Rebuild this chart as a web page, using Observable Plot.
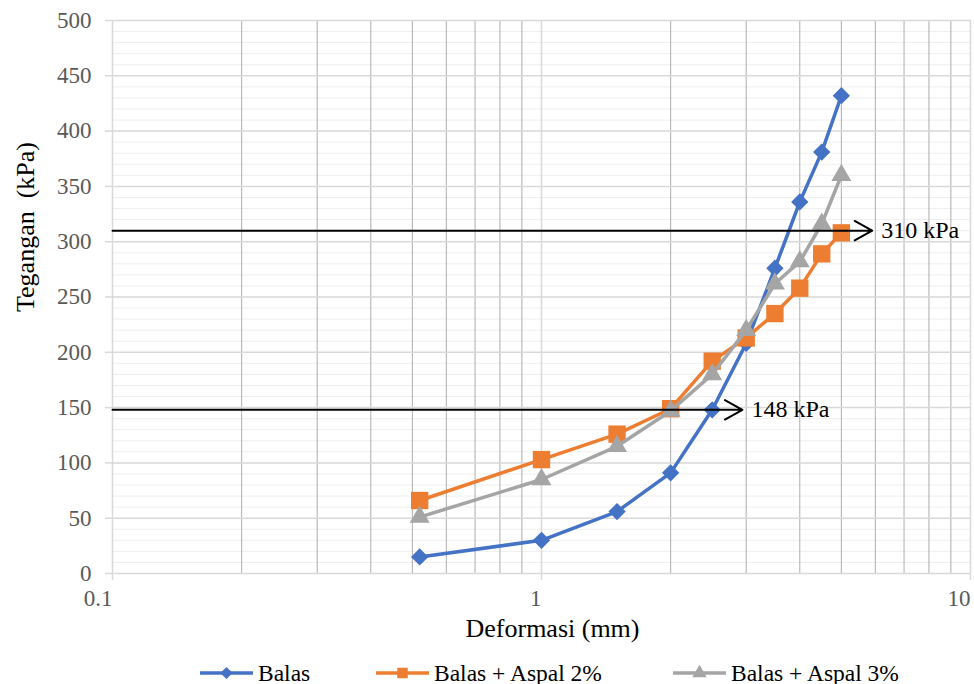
<!DOCTYPE html>
<html><head><meta charset="utf-8">
<script src="https://cdn.jsdelivr.net/npm/d3@7"></script>
<script src="https://cdn.jsdelivr.net/npm/@observablehq/plot@0.6"></script>
<style>
body{margin:0;background:#fff;font-family:"Liberation Serif","Times New Roman",serif;}
#legend{position:relative;height:34px;width:974px;font-size:23.5px;color:#000;}
.item{position:absolute;top:0;height:34px;display:flex;align-items:center;white-space:nowrap;}
.item svg{margin-right:4px;}
</style></head><body><div id="chart"></div><div id="legend"></div>
<script>
// Data
const deformasi = [0.52, 1, 1.5, 2, 2.5, 3, 3.5, 4, 4.5, 5];
const balas     = [15, 30, 56, 91, 148, 208, 276, 336, 381, 432];
const aspal2    = [66, 103, 126, 149, 192, 213, 235, 258, 289, 308];
const aspal3    = [51, 85, 115, 147, 180, 220, 262, 282, 316, 360];
const seriesNames = ["Balas", "Balas + Aspal 2%", "Balas + Aspal 3%"];
const seriesValues = [balas, aspal2, aspal3];
const seriesColors = ["#4472C4", "#ED7D31", "#A5A5A5"];
const seriesSymbols = ["diamond2", "square", "triangle"];
const xDomain = [0.1, 10];
const yDomain = [0, 500];
const xMajorTicks = [0.1, 1, 10];
const xMinorTicks = [0.2, 0.3, 0.4, 0.5, 0.6, 0.7, 0.8, 0.9, 2, 3, 4, 5, 6, 7, 8, 9];
const yMajorTicks = [0, 50, 100, 150, 200, 250, 300, 350, 400, 450, 500];
const yMinorTicks = [10,20,30,40,60,70,80,90,110,120,130,140,160,170,180,190,210,220,230,240,260,270,280,290,310,320,330,340,360,370,380,390,410,420,430,440,460,470,480,490];
const annotationLevels = [310, 148];
const annotationEnds = [5.9, 2.94];
const annotationLabels = ["310 kPa", "148 kPa"];
const xTitle = "Deformasi (mm)";
const yTitle = "Tegangan  (kPa)";

const rows = seriesNames.map((name, s) => deformasi.map((x, i) => ({series: name, x, y: seriesValues[s][i]})));
const annotations = annotationLevels.map((level, i) => ({level, end: annotationEnds[i], label: annotationLabels[i]}));

const symbolR = {diamond2: 7.8, square: 9.8, triangle: 7.4};
const seriesMarks = rows.flatMap((data, s) => [
  Plot.line(data, {x: "x", y: "y", stroke: seriesColors[s], strokeWidth: 3.5}),
  Plot.dot(data, {x: "x", y: "y", symbol: seriesSymbols[s], fill: seriesColors[s], r: symbolR[seriesSymbols[s]], stroke: "none"})
]);

const chart = Plot.plot({
  width: 974, height: 656,
  marginLeft: 112, marginRight: 4, marginTop: 20, marginBottom: 83,
  style: {fontFamily: "'Liberation Serif','Times New Roman',serif", background: "#fff", overflow: "visible"},
  x: {type: "log", domain: xDomain},
  y: {domain: yDomain},
  marks: [
    Plot.ruleY(yMinorTicks, {stroke: "#efefef", strokeWidth: 1}),
    Plot.ruleX(xMinorTicks, {stroke: "#adadad", strokeWidth: 1}),
    Plot.ruleY(yMajorTicks, {stroke: "#d9d9d9", strokeWidth: 1.5}),
    Plot.ruleX(xMajorTicks, {stroke: "#d9d9d9", strokeWidth: 1.5}),
    Plot.axisY({ticks: yMajorTicks, tickSize: 7, tickPadding: 14, stroke: "#d9d9d9", strokeWidth: 1.5, fill: "#595959", fontSize: 23, label: null}),
    Plot.axisX({ticks: xMajorTicks, tickSize: 7, tickPadding: 9, tickFormat: d => String(d), textAnchor: "end", stroke: "#d9d9d9", strokeWidth: 1.5, fill: "#595959", fontSize: 23, label: null}),
    ...seriesMarks,
    Plot.arrow(annotations, {x1: () => xDomain[0], x2: "end", y1: "level", y2: "level", stroke: "#000", strokeWidth: 2, headLength: 15, headAngle: 58}),
    Plot.text(annotations, {x: "end", y: "level", text: "label", textAnchor: "start", dx: 9, fontSize: 24, fill: "#000"}),
    Plot.text([xTitle], {frameAnchor: "bottom", text: d => d, dy: 63, dx: 11, fontSize: 26, fill: "#000"}),
    Plot.text([yTitle], {frameAnchor: "left", text: d => d, rotate: -90, dx: -87, dy: 15, fontSize: 26, fill: "#000"})
  ]
});
document.getElementById("chart").appendChild(chart);

// Legend
const legend = document.getElementById("legend");
const legendLeft = [199, 375, 672];
const legendSymbol = {diamond2: d3.symbolDiamond2, square: d3.symbolSquare, triangle: d3.symbolTriangle};
const legendSize = {diamond2: 95, square: 110, triangle: 90};
seriesNames.forEach((name, s) => {
  const item = document.createElement("div");
  item.className = "item";
  item.style.left = legendLeft[s] + "px";
  const sym = seriesSymbols[s];
  const path = d3.symbol(legendSymbol[sym], legendSize[sym])();
  item.innerHTML = `<svg width="55" height="20"><line x1="1" x2="54" y1="10" y2="10" stroke="${seriesColors[s]}" stroke-width="3.5"/><path d="${path}" transform="translate(27.5,10)" fill="${seriesColors[s]}"/></svg><span>${name}</span>`;
  legend.appendChild(item);
});
</script>
</body></html>
